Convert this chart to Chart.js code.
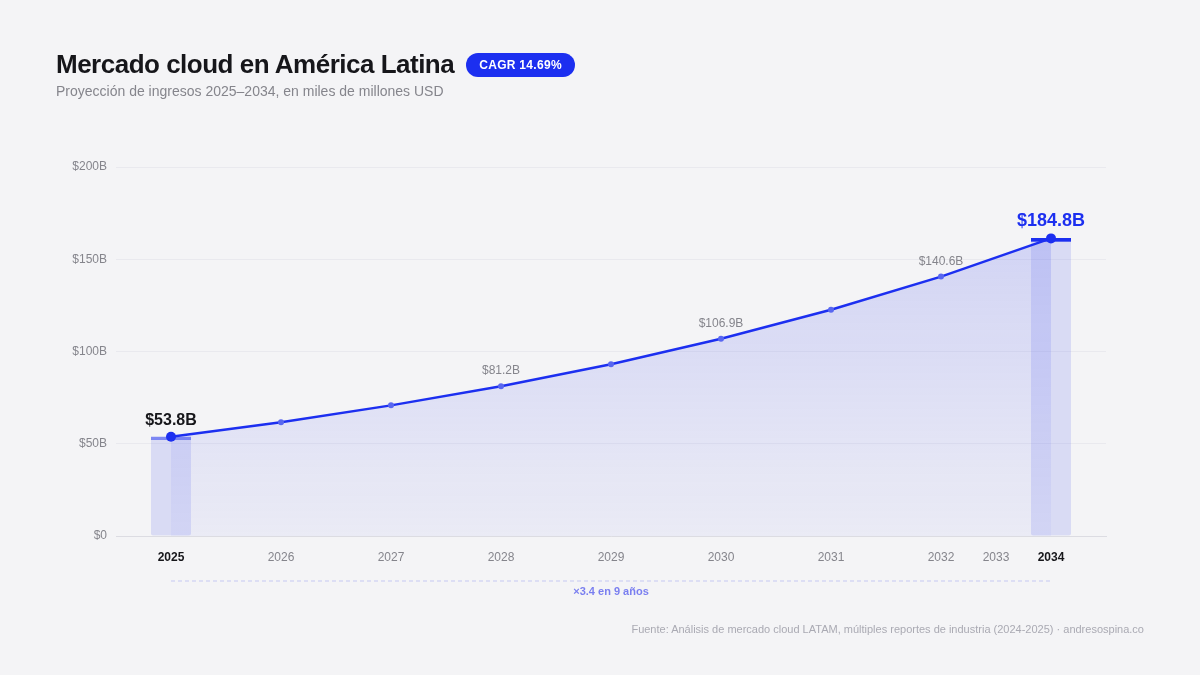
<!DOCTYPE html>
<html>
<head>
<meta charset="utf-8">
<script src="https://cdn.jsdelivr.net/npm/chart.js@4.4.1/dist/chart.umd.min.js"></script>
<style>
	body{margin:0;background:#f4f4f6;font-family:"Liberation Sans",Arial,sans-serif;}
	#wrap{position:relative;width:1200px;height:675px;overflow:hidden;}
	#title{position:absolute;left:56px;top:49px;font-size:26px;font-weight:bold;color:#16161a;letter-spacing:-0.5px;white-space:nowrap;}
	#badge{display:inline-block;vertical-align:4px;margin-left:12px;background:#1c2ff0;color:#fff;font-size:12px;letter-spacing:0.3px;padding:5px 13px 5px 13px;border-radius:12px;}
	#sub{position:absolute;left:56px;top:83px;font-size:14px;color:#85858c;}
	#src{position:absolute;right:56px;top:623px;font-size:11px;color:#aaaab3;}
	#c{position:absolute;left:0;top:0;}
</style>
</head>
<body>
<div id="wrap">
	<canvas id="c" width="1200" height="675"></canvas>
	<div id="title">Mercado cloud en América Latina<span id="badge">CAGR 14.69%</span></div>
	<div id="sub">Proyección de ingresos 2025–2034, en miles de millones USD</div>
	<div id="src">Fuente: Análisis de mercado cloud LATAM, múltiples reportes de industria (2024-2025) · andresospina.co</div>
</div>
<script>
// datos
const pointPos = [0, 1, 2, 3, 4, 5, 6, 7, 8];
const values = [53.8, 61.7, 70.8, 81.2, 93.1, 106.9, 122.6, 140.6, 161.3];
const valueLabels = ['$53.8B', '', '', '$81.2B', '', '$106.9B', '', '$140.6B', '$184.8B'];
const tickPos = [0, 1, 2, 3, 4, 5, 6, 7, 7.5, 8];
const tickYears = ['2025', '2026', '2027', '2028', '2029', '2030', '2031', '2032', '2033', '2034'];
const yTicks = [0, 50, 100, 150, 200];
const highlightIdx = [0, 8];
const growthText = '×3.4 en 9 años';

const BLUE = '#1c2ff0';

//año destacado?
function isBold(i){
	const l = tickYears[i];
	return l == '2025' || l == '2034';
}

//etiquetas y linea punteada
const labelPlugin = {
	id: 'labels',
	afterDatasetsDraw(chart){
		const ctx = chart.ctx;
		const x = chart.scales.x, y = chart.scales.y;
		ctx.save();
		ctx.textAlign = 'center';
		ctx.textBaseline = 'alphabetic';
		valueLabels.forEach(function(t, i){
			if(!t) return;
			const px = x.getPixelForValue(pointPos[i]);
			const py = y.getPixelForValue(values[i]);
			if(i == 0){
				ctx.font = 'bold 16px "Liberation Sans", Arial';
				ctx.fillStyle = '#16161a';
				ctx.fillText(t, px, py - 12);
			}else if(i == values.length - 1){
				ctx.font = 'bold 18px "Liberation Sans", Arial';
				ctx.fillStyle = BLUE;
				ctx.fillText(t, px, py - 12);
			}else{
				ctx.font = '12px "Liberation Sans", Arial';
				ctx.fillStyle = '#85858c';
				ctx.fillText(t, px, py - 12);
			}
		});
		// linea punteada de crecimiento
		const x0 = x.getPixelForValue(pointPos[0]);
		const x1 = x.getPixelForValue(pointPos[pointPos.length - 1]);
		const ly = y.bottom + 45;
		ctx.strokeStyle = '#c5c8f2';
		ctx.lineWidth = 1;
		ctx.setLineDash([4, 3]);
		ctx.beginPath();
		ctx.moveTo(x0, ly);
		ctx.lineTo(x1, ly);
		ctx.stroke();
		ctx.setLineDash([]);
		ctx.font = 'bold 11px "Liberation Sans", Arial';
		ctx.fillStyle = '#7a7ff0';
		ctx.fillText(growthText, (x0 + x1) / 2, ly + 14);
		ctx.restore();
	}
};

var ctx = document.getElementById('c').getContext('2d');
var chart = new Chart(ctx, {
	data: {
		datasets: [{
			type: 'line',
			data: pointPos.map((p, i) => ({x: p, y: values[i]})),
			borderColor: BLUE,
			borderWidth: 2.5,
			tension: 0,
			fill: 'origin',
			backgroundColor: function(c){
				const a = c.chart.chartArea;
				if(!a) return 'rgba(99,102,241,0.15)';
				const g = c.chart.ctx.createLinearGradient(0, a.top, 0, a.bottom);
				g.addColorStop(0, 'rgba(90,100,240,0.26)');
				g.addColorStop(1, 'rgba(90,100,240,0.06)');
				return g;
			},
			pointRadius: pointPos.map((p, i) => highlightIdx.includes(i) ? 5 : 3),
			pointBackgroundColor: pointPos.map((p, i) => highlightIdx.includes(i) ? BLUE : '#5867f0'),
			pointBorderWidth: 0,
			order: 1
		}, {
			type: 'bar',
			data: highlightIdx.map(i => ({x: pointPos[i], y: values[i]})),
			backgroundColor: 'rgba(110,120,240,0.2)',
			borderColor: ['#7d87f3', BLUE],
			borderWidth: {top: 3, left: 0, right: 0, bottom: 0},
			borderSkipped: false,
			borderRadius: {topLeft: 0, topRight: 0, bottomLeft: 2, bottomRight: 2},
			barThickness: 40,
			order: 2
		}]
	},
	options: {
		responsive: false,
		animation: false,
		layout: {padding: {top: 167, right: 94, bottom: 0, left: 1}},
		plugins: {legend: {display: false}, tooltip: {enabled: false}},
		scales: {
			x: {
				type: 'linear',
				min: -0.5,
				max: 8.5,
				offset: false,
				afterBuildTicks: function(s){ s.ticks = tickPos.map(v => ({value: v})); },
				afterFit: function(s){ s.height = 139; },
				grid: {display: false, drawTicks: false, offset: false},
				border: {color: '#dcdce2', width: 1},
				ticks: {
					padding: 14,
					autoSkip: false,
					maxRotation: 0,
					callback: function(v, i){ return tickYears[i]; },
					color: function(c){ return isBold(c.index) ? '#16161a' : '#85858c'; },
					font: function(c){ return isBold(c.index) ? {family: '"Liberation Sans", Arial', size: 12, weight: 'bold'} : {family: '"Liberation Sans", Arial', size: 12}; }
				}
			},
			y: {
				min: 0,
				max: 200,
				afterBuildTicks: function(s){ s.ticks = yTicks.map(v => ({value: v})); },
				afterFit: function(s){ s.width = 115; },
				grid: {color: '#e9e9ee', drawTicks: false},
				border: {display: false},
				ticks: {
					padding: 9,
					color: '#85858c',
					font: {family: '"Liberation Sans", Arial', size: 12},
					callback: function(v){ return v == 0 ? '$0' : '$' + v + 'B'; }
				}
			}
		}
	},
	plugins: [labelPlugin]
});
</script>
</body>
</html>
